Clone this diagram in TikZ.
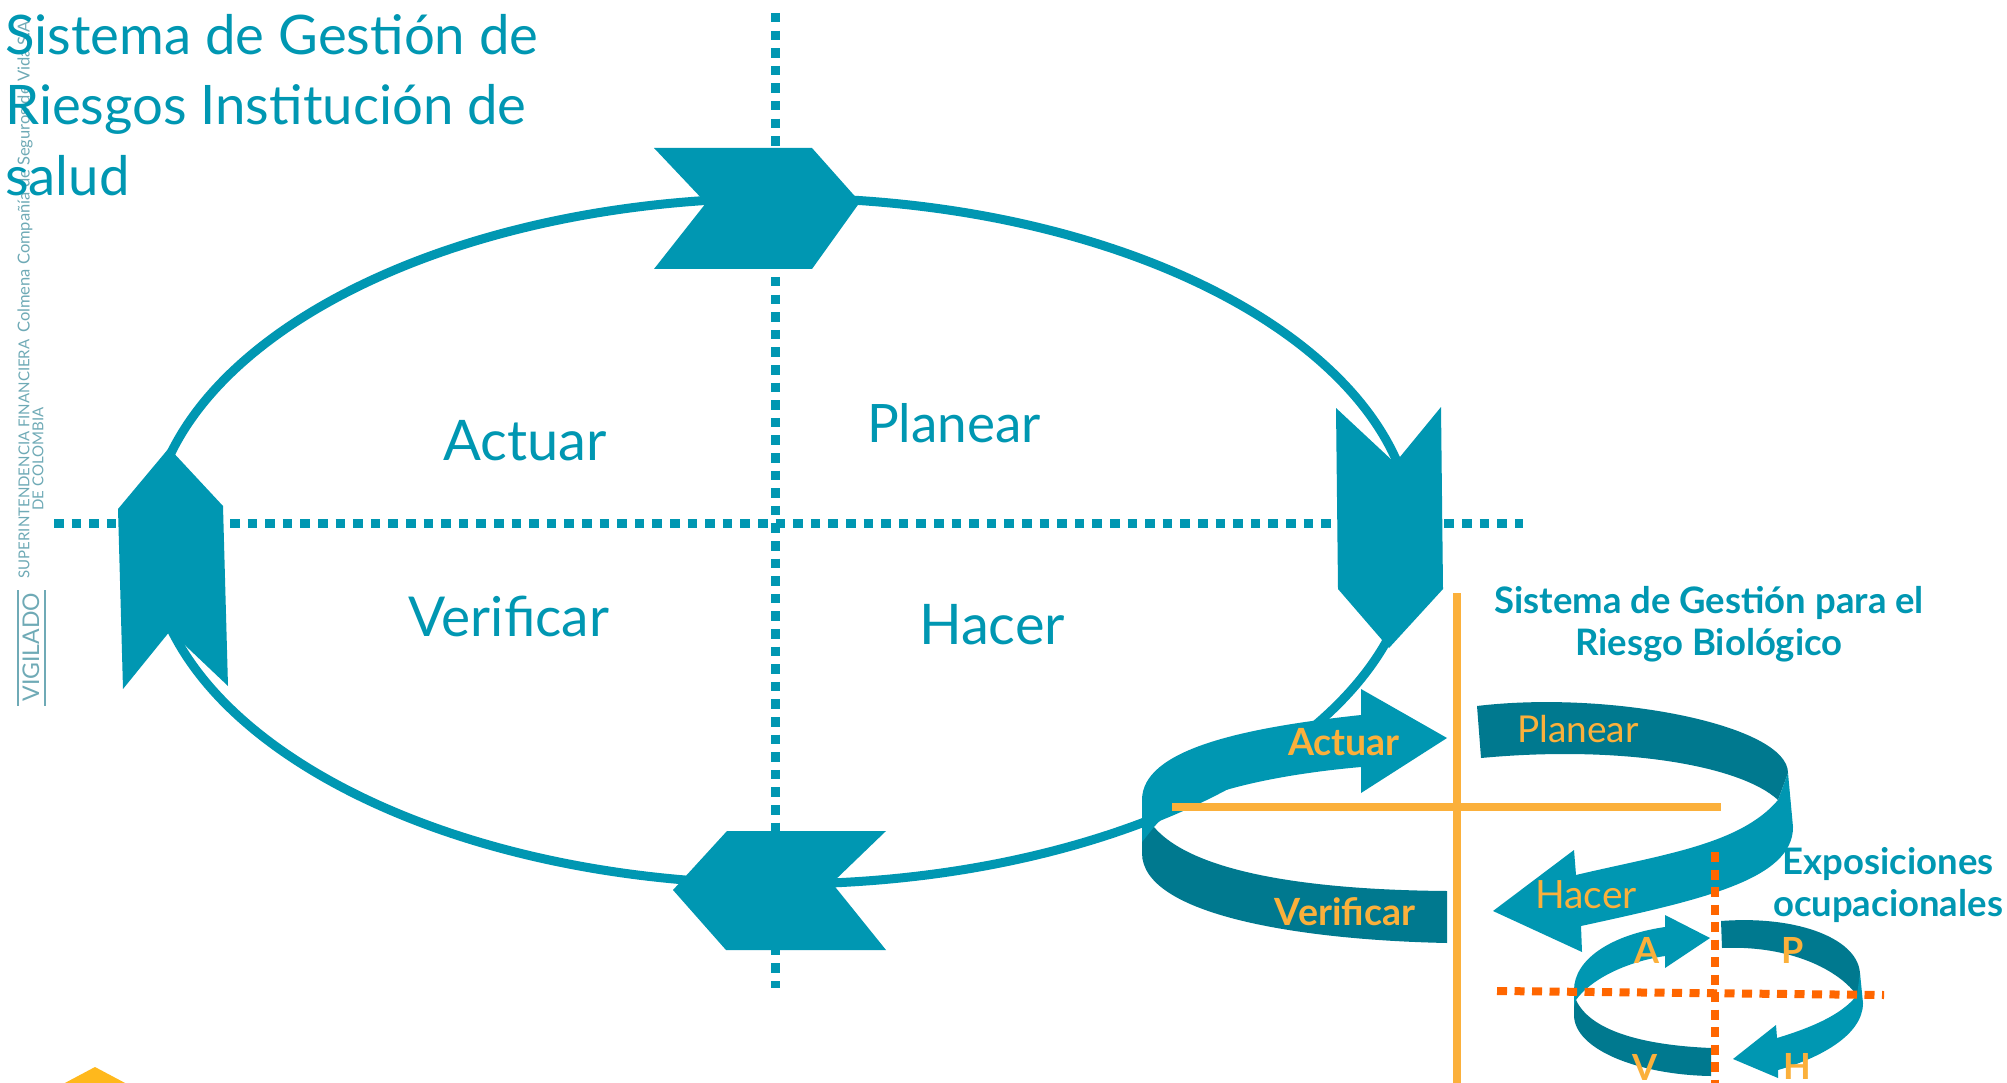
\documentclass[tikz,border=0pt]{standalone}
\usepackage{fontspec}
\setmainfont{Lato}
\definecolor{teal}{HTML}{0097B2}
\definecolor{darkteal}{HTML}{00798F}
\definecolor{gold}{HTML}{FBB03B}
\definecolor{orng}{HTML}{FF6600}
\definecolor{wm}{HTML}{6FAAB6}
\definecolor{logoy}{HTML}{FFB81C}
\newcommand{\fs}[1]{\fontsize{#1}{#1}\selectfont}
\tikzset{
  x=1pt,y=-1pt,
  tealdots/.style={draw=teal,line width=9pt,dash pattern=on 9.5pt off 8.1pt},
  orngdots/.style={draw=orng,line width=8pt,dash pattern=on 10pt off 7.5pt},
  goldline/.style={draw=gold,line width=8.5pt},
  ring/.style={draw=teal,line width=9pt},
  chevron/.style={fill=teal},
  light/.style={fill=teal},
  dark/.style={fill=darkteal},
  big/.style={text=teal,font=\fs{56}},
  title/.style={text=teal,anchor=base west,inner sep=0pt,font=\fs{54.5}},
  head/.style={text=teal,font=\bfseries\fs{36.5},align=center},
  goldb/.style={text=gold,font=\bfseries\fs{37.5}},
  goldl/.style={text=gold,font=\bfseries\fs{36},anchor=base,inner sep=0pt},
  goldr/.style={text=gold,font=\fs{37}},
  wmark/.style={text=wm,rotate=90,inner sep=0pt},
}
\begin{document}
\begin{tikzpicture}
\clip (0,0) rectangle (2007,1083);
\fill[white] (0,0) rectangle (2007,1083);
% watermark
\node[wmark,font=\fs{16.5}] (wa) at (25,175) {Colmena Compañía de Seguros de Vida S.A.};
\node[wmark,font=\fs{15}] (wb) at (24,459) {SUPERINTENDENCIA FINANCIERA};
\node[wmark,font=\fs{15}] (wc) at (38,459) {DE COLOMBIA};
\node[wmark,font=\fs{23}] (wd) at (31,647) {VIGILADO};
\draw[wm,line width=1.5pt] (18,590)--(18,706) (45,590)--(45,706);
\fill[logoy] (95,1067)--(127,1084)--(63,1084)--cycle;
% dotted cross
\draw[tealdots] (54,523)--(1523,523);
\draw[tealdots] (775,13)--(775,988);
% main ring
\draw[ring] (782,541) ellipse [x radius=632,y radius=343];
% chevrons
\fill[chevron] (654,148)--(812,148)--(860,202)--(812,269)--(654,269)--(706,203)--cycle;
\fill[chevron] (1336,408)--(1395,463)--(1441,407)--(1443,589)--(1389,648)--(1338,589)--cycle;
\fill[chevron] (118,509)--(169,448)--(223,506)--(228,686)--(170,631)--(123,689)--cycle;
\fill[chevron] (727,831)--(886,831)--(832,883)--(886,950)--(726,950)--(673,890)--cycle;
% big ribbon
\fill[dark] (1154,827) .. controls (1195,875) and (1320,890) .. (1447,891)
  -- (1447,943) .. controls (1300,940) and (1142,915) .. (1142,853) -- (1142,800) -- cycle;
\fill[light] (1447,738) -- (1361,689) -- (1361,715) .. controls (1240,728) and (1142,750) .. (1142,800)
  -- (1142,842) -- (1154,827) .. controls (1180,795) and (1270,775) .. (1361,767) -- (1361,793) -- cycle;
\fill[dark] (1477,706) .. controls (1610,690) and (1788,725) .. (1788,773)
  -- (1778,800) .. controls (1740,765) and (1620,745) .. (1481,758) -- cycle;
\fill[light] (1788,773) -- (1793,827) .. controls (1793,880) and (1700,900) .. (1581,926)
  -- (1582,952) -- (1493,911) -- (1574,850) -- (1576,875)
  .. controls (1660,855) and (1740,845) .. (1778,800) -- cycle;
% small ribbon
\fill[dark] (1576,1000) .. controls (1590,1030) and (1640,1045) .. (1711,1048)
  -- (1711,1076) .. controls (1640,1075) and (1574,1050) .. (1574,1015) -- (1574,990) -- cycle;
\fill[light] (1710,938) -- (1665,915) -- (1665,927) .. controls (1610,935) and (1574,960) .. (1574,990)
  -- (1574,1007) -- (1576,1000) .. controls (1590,980) and (1625,962) .. (1665,956) -- (1665,968) -- cycle;
\fill[dark] (1721,921) .. controls (1800,915) and (1860,940) .. (1860,975)
  -- (1858,997) .. controls (1840,970) and (1790,945) .. (1722,948) -- cycle;
\fill[light] (1860,973) -- (1863,1003) .. controls (1863,1035) and (1820,1058) .. (1778,1070)
  -- (1778,1078) -- (1733,1059) -- (1776,1025) -- (1777,1038)
  .. controls (1810,1028) and (1842,1015) .. (1857,995) -- cycle;
% gold cross
\draw[goldline] (1457,593)--(1457,1083);
\draw[goldline] (1172,807)--(1721,807);
% orange cross
\draw[orngdots] (1497,991)--(1884,995);
\draw[orngdots] (1715,852)--(1715,1083);
% title
\node[title] (t1) at (5,55) {Sistema de Gestión de};
\node[title] (t2) at (5,125) {Riesgos Institución de};
\node[title] (t3) at (5,196) {salud};
% phase labels
\node[big] (actuar) at (525,441) {Actuar};
\node[big,font=\fs{53}] (planear) at (954,423) {Planear};
\node[big,font=\fs{55}] (verificar) at (509,616) {Verificar};
\node[big] (hacer) at (992,625) {Hacer};
\node[head] (h1) at (1709,624) {Sistema de Gestión para el\\[5pt]Riesgo Biológico};
\node[head] (h2) at (1888,885) {Exposiciones\\[5pt]ocupacionales};
\node[goldb] (la) at (1344,742) {Actuar};
\node[goldr] (lp) at (1578,729) {Planear};
\node[goldb] (lv) at (1345,912) {Verificar};
\node[goldr,font=\fs{39}] (lh) at (1586,895) {Hacer};
\node[goldl] (sa) at (1647,963) {A};
\node[goldl] (sp) at (1793,963) {P};
\node[goldl] (sv) at (1645,1080) {V};
\node[goldl] (sh) at (1797,1079) {H};
\end{tikzpicture}
\end{document}
